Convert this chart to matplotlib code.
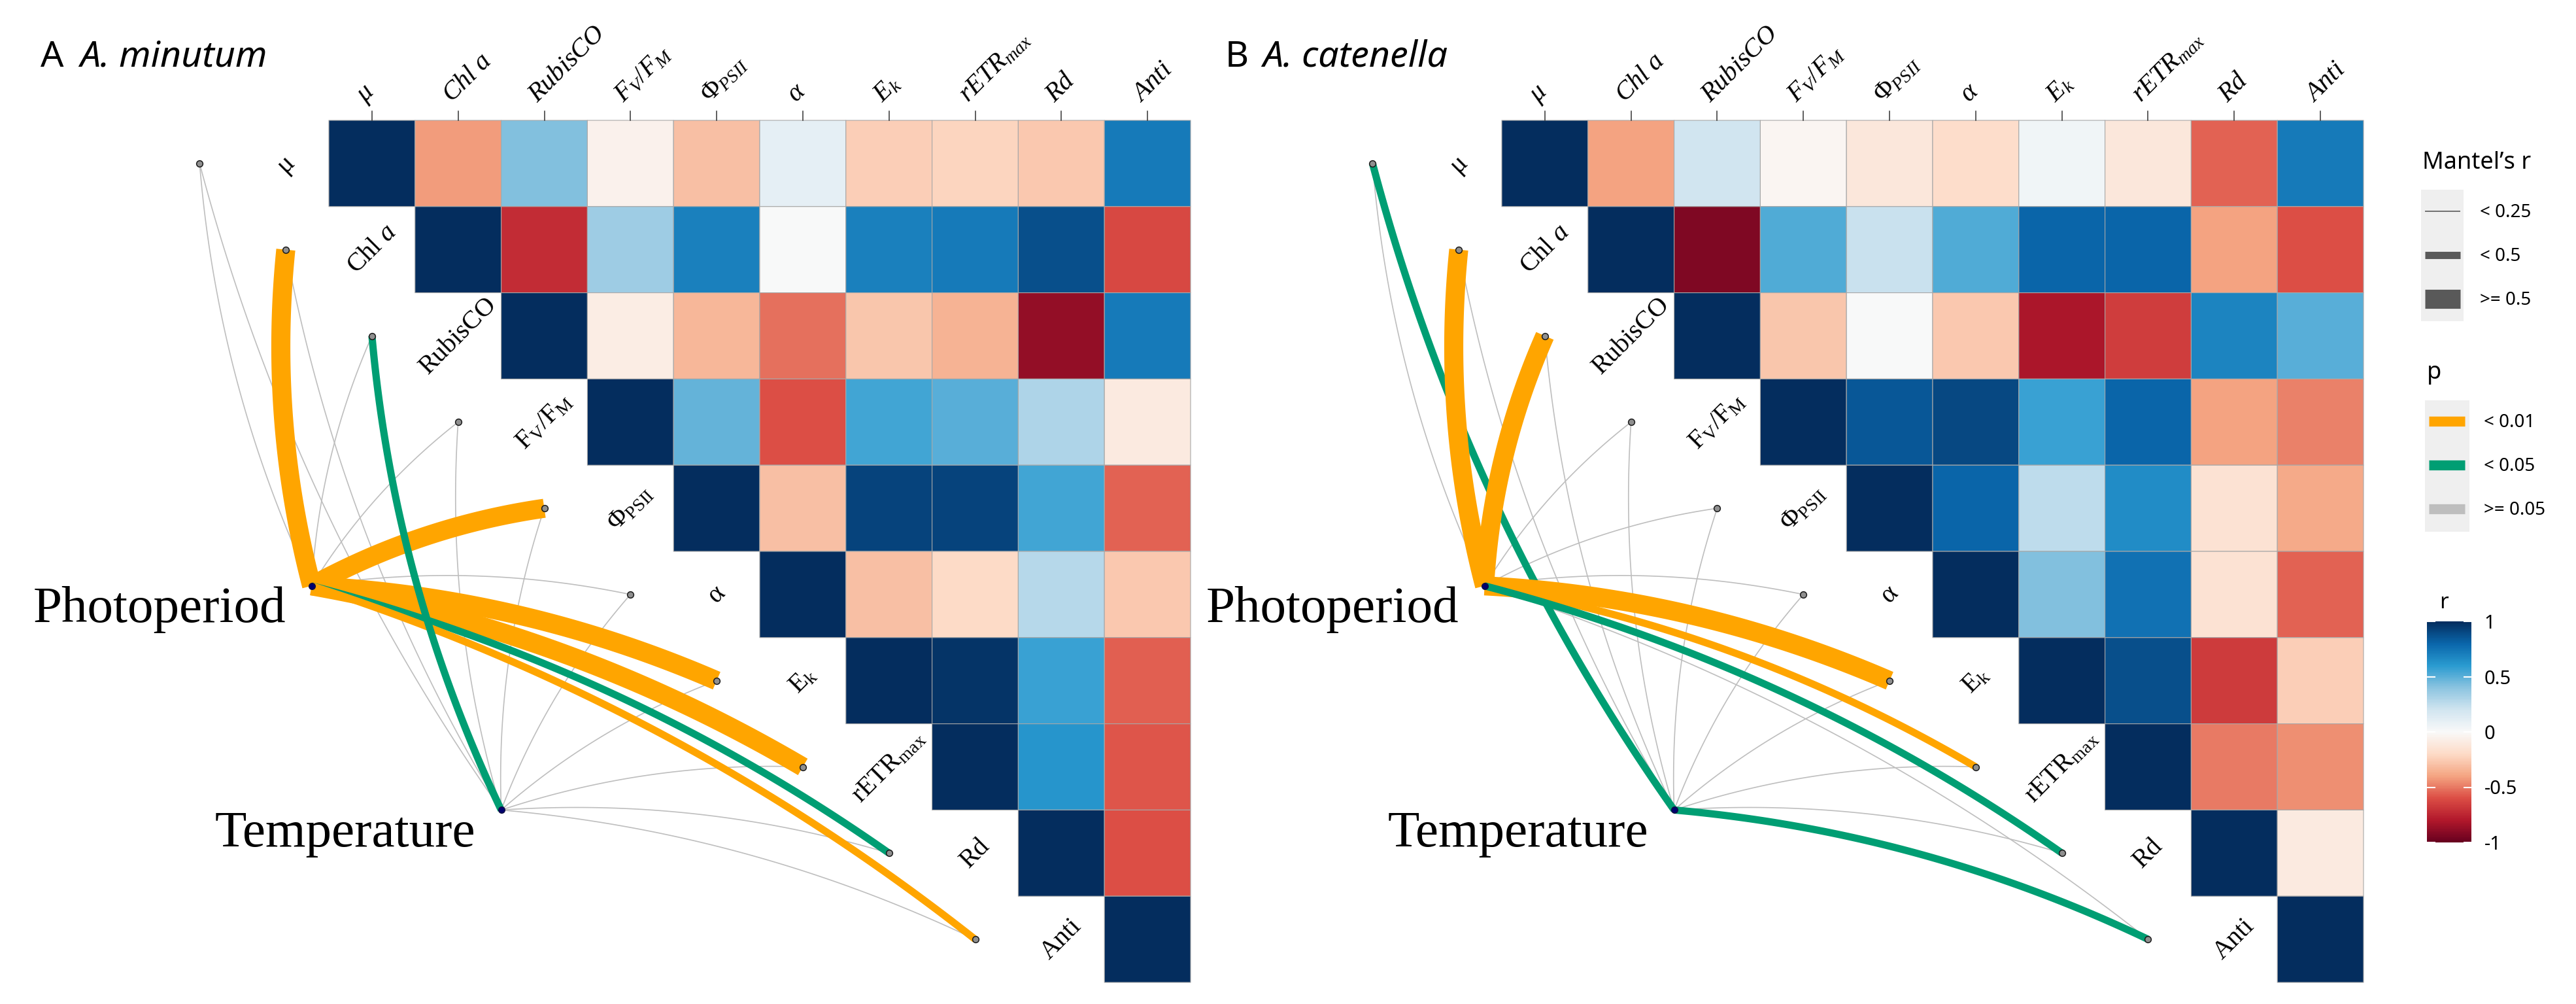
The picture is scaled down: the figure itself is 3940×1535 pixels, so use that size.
import numpy as np
import matplotlib.pyplot as plt
from matplotlib.colors import LinearSegmentedColormap
from matplotlib.patches import Rectangle

plt.rcParams['mathtext.fontset'] = 'custom'
plt.rcParams['mathtext.rm'] = 'Liberation Serif'
plt.rcParams['mathtext.it'] = 'Liberation Serif:italic'

# ----------- labels
top_labels = [r'$\mu$', r'$Chl\ a$', r'$RubisCO$', r'$F_{V}/F_{M}$', r'$Φ_{PSII}$',
              r'$\alpha$', r'$E_{k}$', r'$rETR_{max}$', r'$Rd$', r'$Anti$']
diag_labels = ['μ', r'Chl $a$', 'RubisCO', r'$\mathrm{F_{V}/F_{M}}$', r'$\mathrm{Φ_{PSII}}$',
               'α', r'$\mathrm{E_{k}}$', r'$\mathrm{rETR_{max}}$', 'Rd', 'Anti']
envs = ['Photoperiod', 'Temperature']

# ----------- Pearson r, upper triangle (row i holds columns i..9)
r_A = [
    [1, -0.42, 0.42, -0.05, -0.30, 0.10, -0.25, -0.22, -0.27, 0.72],
    [1, -0.72, 0.35, 0.70, 0.00, 0.70, 0.72, 0.88, -0.62],
    [1, -0.08, -0.33, -0.52, -0.28, -0.35, -0.88, 0.72],
    [1, 0.48, -0.60, 0.55, 0.50, 0.30, -0.10],
    [1, -0.30, 0.92, 0.92, 0.55, -0.55],
    [1, -0.30, -0.20, 0.28, -0.27],
    [1, 0.97, 0.57, -0.56],
    [1, 0.62, -0.58],
    [1, -0.60],
    [1],
]
r_B = [
    [1, -0.40, 0.20, -0.03, -0.12, -0.18, 0.04, -0.12, -0.55, 0.72],
    [1, -0.93, 0.52, 0.22, 0.52, 0.80, 0.80, -0.40, -0.60],
    [1, -0.28, 0.00, -0.27, -0.82, -0.66, 0.68, 0.50],
    [1, 0.85, 0.90, 0.57, 0.80, -0.40, -0.48],
    [1, 0.80, 0.25, 0.65, -0.15, -0.38],
    [1, 0.42, 0.75, -0.15, -0.55],
    [1, 0.88, -0.67, -0.25],
    [1, -0.50, -0.45],
    [1, -0.10],
    [1],
]

# ----------- Mantel test classes for each variable
# size: 0 '< 0.25', 1 '< 0.5', 2 '>= 0.5'    p: 0 '< 0.01', 1 '< 0.05', 2 '>= 0.05'
size_A_photo = [0, 2, 0, 0, 2, 0, 2, 2, 1, 1]
p_A_photo = [2, 0, 2, 2, 0, 2, 0, 0, 1, 0]
size_A_temp = [0, 0, 1, 0, 0, 0, 0, 0, 0, 0]
p_A_temp = [2, 2, 1, 2, 2, 2, 2, 2, 2, 2]
size_B_photo = [0, 2, 2, 0, 0, 0, 2, 1, 1, 0]
p_B_photo = [2, 0, 0, 2, 2, 2, 0, 0, 1, 2]
size_B_temp = [1, 0, 0, 0, 0, 0, 0, 0, 0, 1]
p_B_temp = [1, 2, 2, 2, 2, 2, 2, 2, 2, 1]

size_labels = ['< 0.25', '< 0.5', '>= 0.5']
p_labels = ['< 0.01', '< 0.05', '>= 0.05']
cbar_ticks = [-1, -0.5, 0, 0.5, 1]

# ----------- style / layout
W, H = 3941, 1535
cell = 131.8  # px per heatmap cell
line_w = [1.2, 8.0, 21.0]
p_col = ['#FFA500', '#009E73', '#BEBEBE']
cmap = LinearSegmentedColormap.from_list('rdbu2', [
    '#67001F', '#B2182B', '#DC4E45', '#F4A582', '#FDDBC7', '#F9F9F9',
    '#D1E5F0', '#8CC4E0', '#2A9BD0', '#0A66AB', '#042D5E'])
env_pos = {'Photoperiod': (-0.2, 5.4), 'Temperature': (2.0, 8.0)}
rad = 0.09
serif = 'Liberation Serif'
sans = 'Noto Sans'


def upper(rows):
    m = np.full((10, 10), np.nan)
    for i, row in enumerate(rows):
        m[i, i:] = row
    return np.ma.masked_invalid(m)


def bezier(x0, y0, x1, y1):
    # quadratic curve, bent like ggplot geom_curve
    cx = (x0 + x1) / 2 + rad * (y1 - y0)
    cy = (y0 + y1) / 2 - rad * (x1 - x0)
    t = np.linspace(0, 1, 80)
    bx = (1 - t) ** 2 * x0 + 2 * (1 - t) * t * cx + t ** 2 * x1
    by = (1 - t) ** 2 * y0 + 2 * (1 - t) * t * cy + t ** 2 * y1
    return bx, by


def draw_panel(ax, rows, edges):
    mesh = ax.pcolor(np.arange(11), np.arange(11), upper(rows), cmap=cmap,
                     vmin=-1, vmax=1, edgecolors='#A8A8A8', linewidth=0.8)
    for j in range(10):
        ax.plot([j + 0.5, j + 0.5], [0, -0.11], color='#333333', lw=1.1)
        # y axis runs downwards, so -45 in data space is +45 on the page
        ax.text(j + 0.42, -0.2, top_labels[j], rotation=-45, transform_rotates_text=True,
                rotation_mode='anchor', ha='left', va='baseline', fontsize=29)
        ax.text(j - 0.5, j + 0.5, diag_labels[j], rotation=-45, transform_rotates_text=True,
                rotation_mode='anchor', ha='center', va='center', fontsize=29, family=serif)
    vx = np.arange(10) - 1.5
    vy = np.arange(10) + 0.5
    # grey (non significant) links first, coloured ones on top
    for sig in (False, True):
        for env, sizes, ps in edges:
            ex, ey = env_pos[env]
            for k in range(10):
                if (ps[k] < 2) != sig:
                    continue
                bx, by = bezier(ex, ey, vx[k], vy[k])
                ax.plot(bx, by, color=p_col[ps[k]], lw=line_w[sizes[k]],
                        solid_capstyle='butt', zorder=3)
    ax.plot(vx, vy, 'o', ms=7, mfc='#8F8F8F', mec='#1A1A1A', mew=1.1, zorder=5)
    for env in envs:
        ex, ey = env_pos[env]
        ax.plot(ex, ey, 'o', ms=7, mfc='#00006E', mec='#101040', mew=1, zorder=5)
        ax.text(ex - 0.3, ey + 0.42, env, ha='right', va='baseline', fontsize=57,
                family=serif)
    ax.axis('off')
    return mesh


fig = plt.figure(figsize=(W / 100, H / 100), dpi=100)

lax = fig.add_axes([0, 0, 1, 1])
lax.set_xlim(0, W)
lax.set_ylim(H, 0)
lax.axis('off')

# panel A
axA = fig.add_axes([0, 0, 1840 / W, 1])
axA.set_xlim(-503 / cell, (1840 - 503) / cell)
axA.set_ylim((H - 184) / cell, -184 / cell)
draw_panel(axA, r_A, [('Photoperiod', size_A_photo, p_A_photo),
                      ('Temperature', size_A_temp, p_A_temp)])
axA.set_xlim(-503 / cell, (1840 - 503) / cell)
axA.set_ylim((H - 184) / cell, -184 / cell)

# panel B
axB = fig.add_axes([1845 / W, 0, 1800 / W, 1])
axB.set_xlim((1845 - 2297) / cell, (3645 - 2297) / cell)
axB.set_ylim((H - 184) / cell, -184 / cell)
mesh = draw_panel(axB, r_B, [('Temperature', size_B_temp, p_B_temp),
                             ('Photoperiod', size_B_photo, p_B_photo)])
axB.set_xlim((1845 - 2297) / cell, (3645 - 2297) / cell)
axB.set_ylim((H - 184) / cell, -184 / cell)

# panel titles
lax.text(62, 102, 'A', fontsize=40, family=sans, va='baseline')
lax.text(122, 102, 'A. minutum', fontsize=40, family=sans, style='italic', va='baseline')
lax.text(1874, 102, 'B', fontsize=40, family=sans, va='baseline')
lax.text(1931, 102, 'A. catenella', fontsize=40, family=sans, style='italic', va='baseline')

# legend: Mantel's r
lax.text(3705, 249, 'Mantel’s r', fontsize=26, family=sans, va='center')
lax.add_patch(Rectangle((3703, 290), 65, 201, color='#EFEFEF', lw=0))
for k in range(3):
    y = 323 + 67 * k
    lax.plot([3709, 3763], [y, y], color='#595959', lw=line_w[k], solid_capstyle='butt')
    lax.text(3793, y + 2, size_labels[k], fontsize=20, family=sans, va='center')

# legend: p
lax.text(3712, 570, 'p', fontsize=26, family=sans, va='center')
lax.add_patch(Rectangle((3709, 612), 68, 201, color='#EFEFEF', lw=0))
for k in range(3):
    y = 644 + 67 * k
    lax.plot([3715, 3770], [y, y], color=p_col[k], lw=11, solid_capstyle='butt')
    lax.text(3799, y + 2, p_labels[k], fontsize=20, family=sans, va='center')

# colour bar
lax.text(3738, 922, 'r', fontsize=24, family=sans, ha='center', va='center')
cax = fig.add_axes([3712 / W, 1 - 1288 / H, 68 / W, 338 / H])
cb = fig.colorbar(mesh, cax=cax, ticks=cbar_ticks)
cb.outline.set_visible(False)
cb.ax.set_yticklabels(['-1', '-0.5', '0', '0.5', '1'], family=sans)
cax.yaxis.set_ticks_position('both')
cax.tick_params(direction='in', length=9, width=1.5, color='white',
                labelsize=21, pad=14, labelleft=False, labelright=True)

fig.savefig('out.png', dpi=100)
